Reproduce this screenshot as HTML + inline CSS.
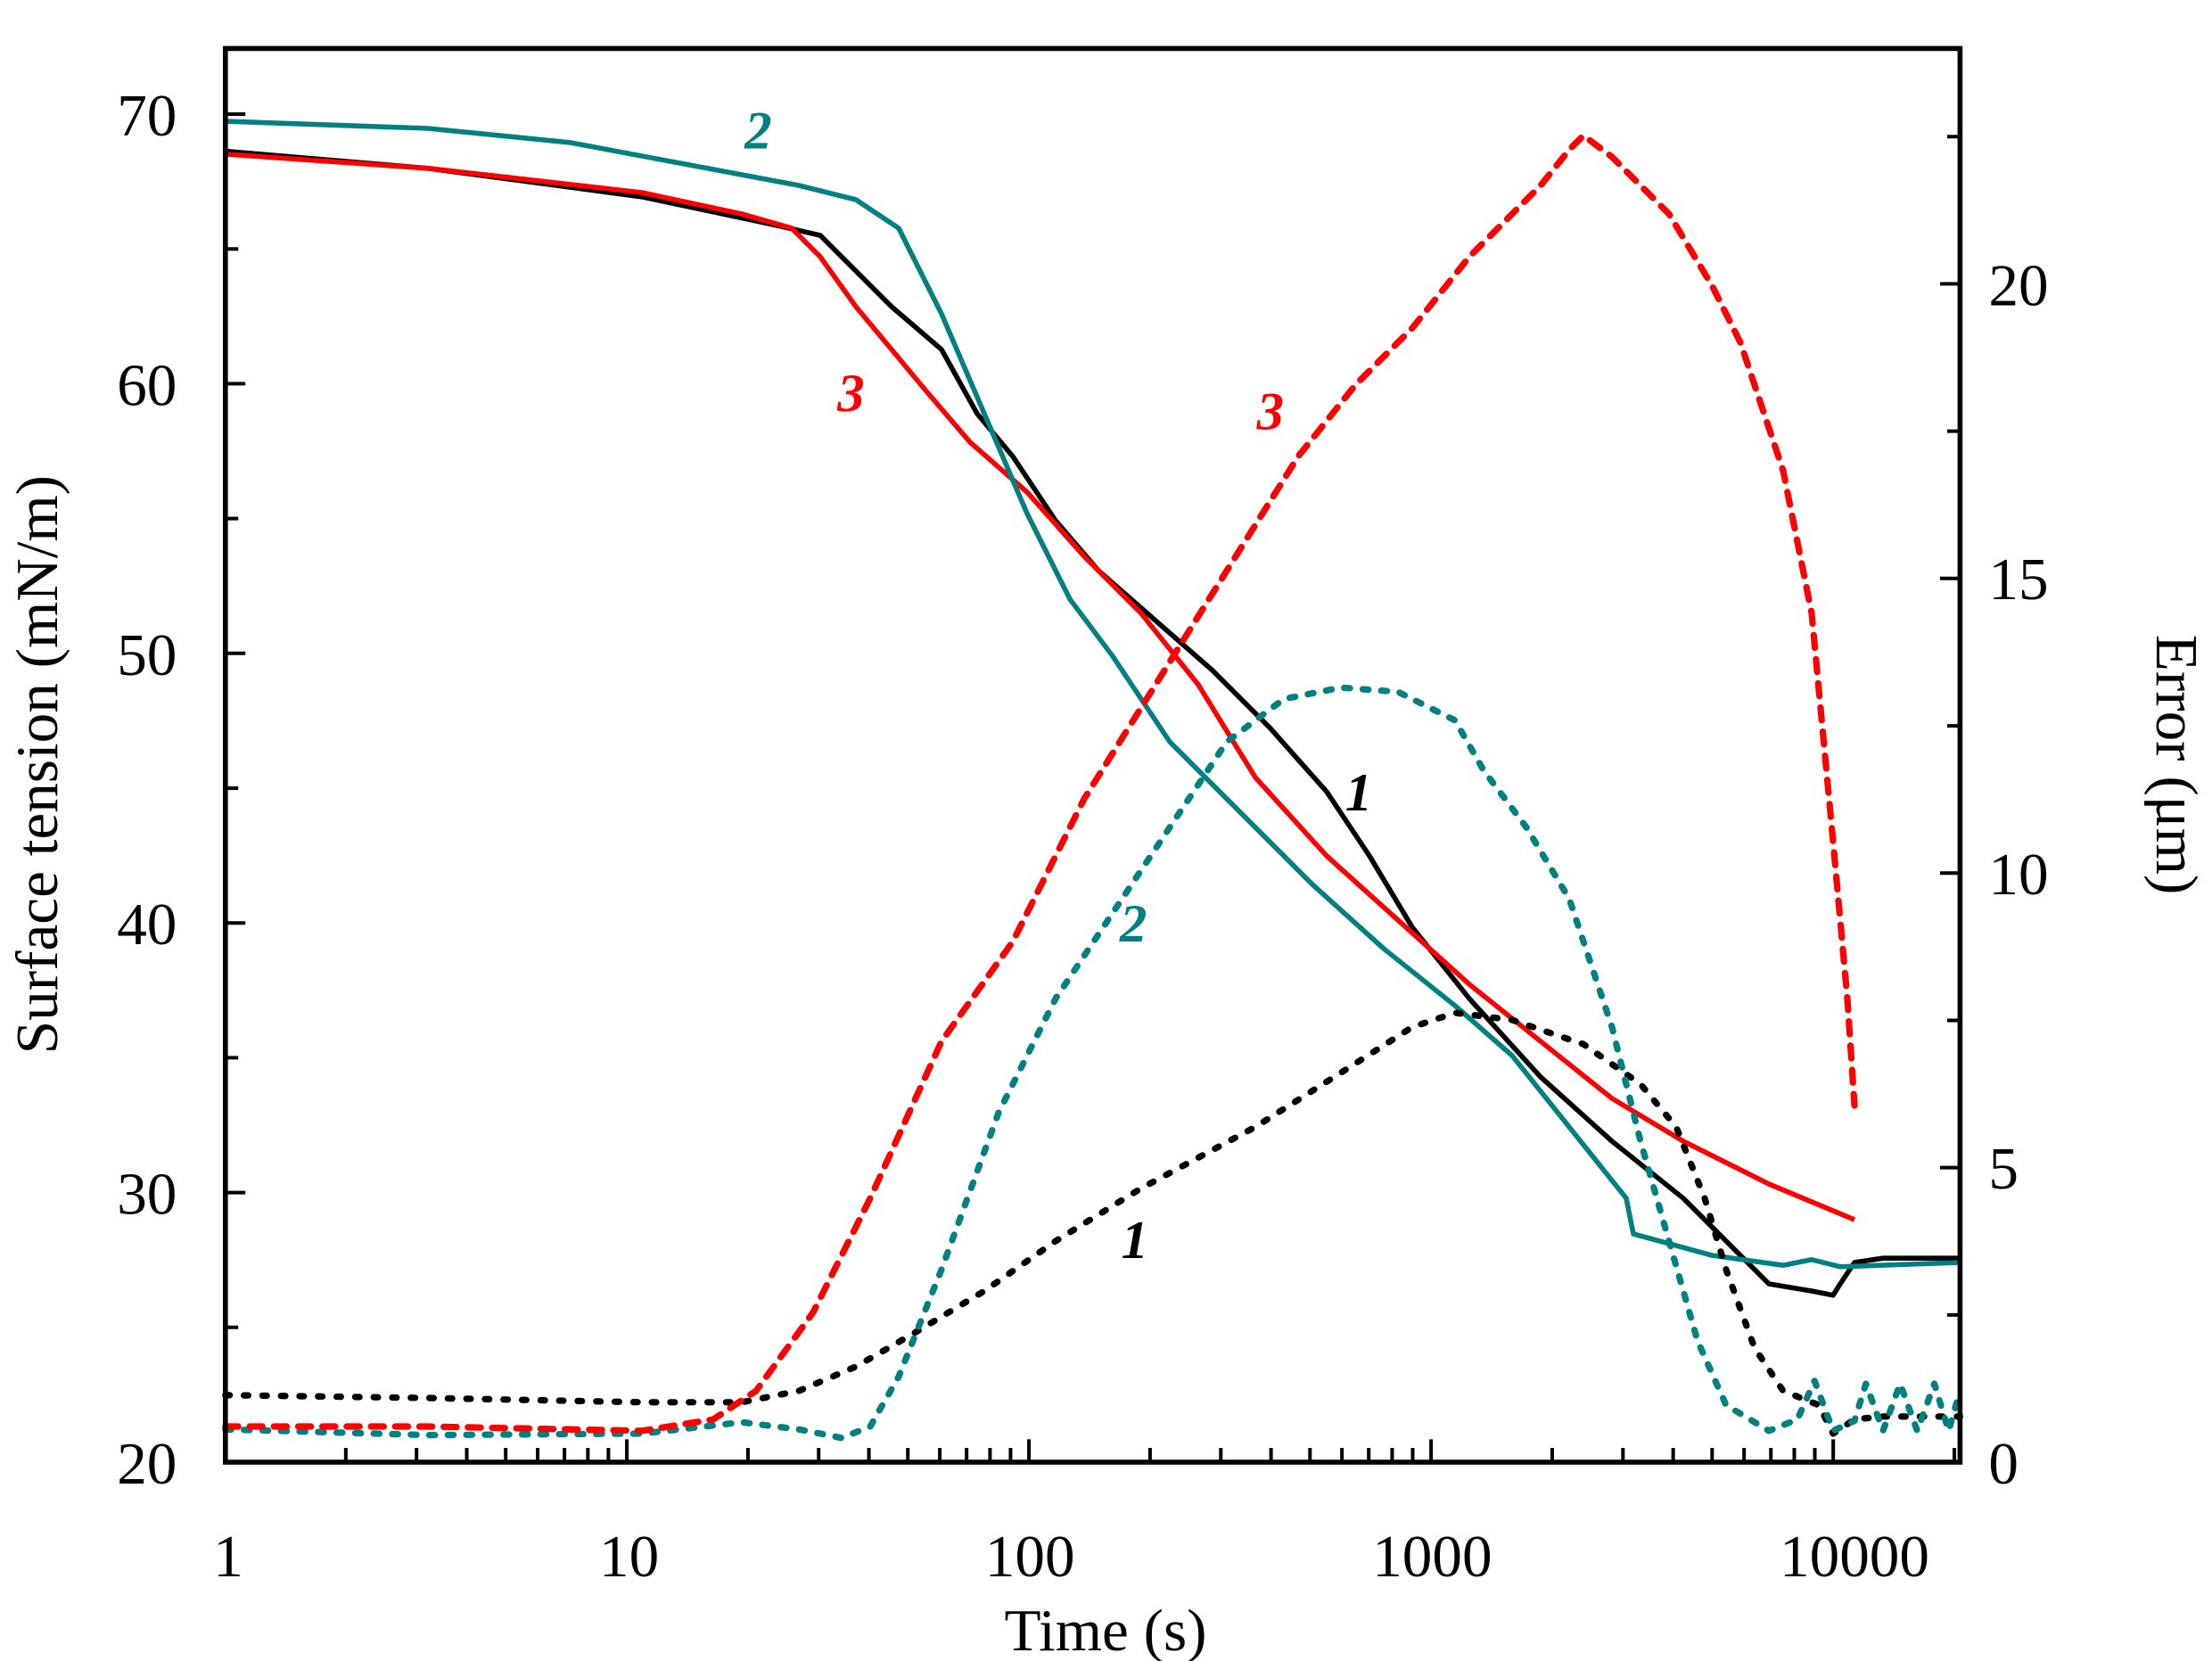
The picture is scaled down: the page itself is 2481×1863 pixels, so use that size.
<!DOCTYPE html>
<html><head><meta charset="utf-8"><style>html,body{margin:0;padding:0;background:#fff}svg{display:block}</style></head>
<body>
<svg xmlns="http://www.w3.org/2000/svg" width="2481" height="1863" viewBox="0 0 1550.625 1164.375">
<rect width="1550.625" height="1164.375" fill="#fff"/>
<g fill="none" stroke-linejoin="round">
<polyline stroke="#000" stroke-width="3.5" points="158,106 300,118 450,138 540,157 575,165 600,190 625,215 660,245 685,290 710,320 740,365 770,400 810,435 850,470 890,510 930,555 960,600 990,650 1030,700 1080,755 1130,800 1180,840 1210,870 1240,900 1270,905 1285,908 1290,900 1300,885 1320,882 1374,882"/>
<polyline stroke="#ff0000" stroke-width="3.5" points="158,108 300,118 450,135 520,150 555,160 575,180 600,215 625,245 650,275 680,310 720,345 760,390 800,430 840,480 880,545 930,600 980,645 1030,690 1080,730 1130,770 1180,800 1240,830 1300,855"/>
<polyline stroke="#008080" stroke-width="3.5" points="158,85 300,90 400,100 480,115 560,130 600,140 630,160 660,220 690,290 720,360 750,420 780,460 820,520 870,570 920,620 970,665 1020,705 1060,740 1100,790 1140,840 1145,865 1200,880 1250,887 1270,883 1290,888 1374,885"/>
<polyline stroke="#000" stroke-width="4.5" stroke-linecap="round" stroke-dasharray="3 10" points="158,978 300,980 450,983 520,983 560,975 600,958 640,935 690,905 740,870 800,833 880,790 940,752 990,720 1020,710 1060,715 1110,732 1150,760 1175,790 1195,840 1210,890 1230,945 1250,975 1275,985 1285,1005 1300,995 1320,993 1374,993"/>
<polyline stroke="#008080" stroke-width="4.5" stroke-linecap="round" stroke-dasharray="4 9" points="158,1002 300,1006 450,1005 520,997 560,1002 590,1008 610,1000 630,965 660,890 700,780 740,700 780,640 820,580 860,520 900,490 940,482 980,485 1020,505 1040,540 1070,580 1100,630 1130,720 1150,800 1170,870 1190,940 1210,985 1240,1003 1260,995 1272,968 1285,1003 1300,996 1308,970 1320,1003 1332,970 1344,1003 1356,970 1366,1003 1374,975"/>
<polyline stroke="#ff0000" stroke-width="4.5" stroke-linecap="round" stroke-dasharray="9 8" points="158,1000 300,1000 450,1003 500,995 530,975 570,920 610,840 660,730 710,660 760,560 810,480 860,400 910,320 950,270 990,230 1030,180 1080,130 1100,105 1110,95 1130,110 1170,150 1200,200 1220,240 1250,330 1270,430 1285,590 1295,700 1300,775"/>
</g>
<rect x="158" y="34" width="1216" height="991" fill="none" stroke="#000" stroke-width="3.5"/>
<g stroke="#000" stroke-width="2.5">
<path d="M157.5,1025v-16M439.4,1025v-16M721.3,1025v-16M1003.2,1025v-16M1285.1,1025v-16"/>
<path d="M242.4,1025v-10M292,1025v-10M327.2,1025v-10M354.5,1025v-10M376.9,1025v-10M395.7,1025v-10M412.1,1025v-10M426.5,1025v-10
M524.3,1025v-10M573.9,1025v-10M609.1,1025v-10M636.4,1025v-10M658.8,1025v-10M677.6,1025v-10M694,1025v-10M708.4,1025v-10
M806.2,1025v-10M855.8,1025v-10M891,1025v-10M918.3,1025v-10M940.7,1025v-10M959.5,1025v-10M975.9,1025v-10M990.3,1025v-10
M1088.1,1025v-10M1137.7,1025v-10M1172.9,1025v-10M1200.2,1025v-10M1222.6,1025v-10M1241.4,1025v-10M1257.8,1025v-10M1272.2,1025v-10
M1370,1025v-10"/>
<path d="M158,1025h14M158,836h14M158,647h14M158,458h14M158,269h14M158,80h14"/>
<path d="M158,930.5h9M158,741.5h9M158,552.5h9M158,363.5h9M158,174.5h9"/>
<path d="M1374,1025h-14M1374,818.5h-14M1374,612h-14M1374,405.5h-14M1374,199h-14"/>
<path d="M1374,921.8h-9M1374,715.3h-9M1374,508.8h-9M1374,302.3h-9M1374,95.8h-9"/>
</g>
<g font-family="Liberation Serif, serif" font-size="42" fill="#000">
<g text-anchor="end">
<text x="124" y="1040">20</text><text x="124" y="851">30</text><text x="124" y="662">40</text>
<text x="124" y="473">50</text><text x="124" y="284">60</text><text x="124" y="95">70</text>
</g>
<g text-anchor="start">
<text x="1394" y="1040">0</text><text x="1394" y="833">5</text><text x="1394" y="627">10</text>
<text x="1394" y="420">15</text><text x="1394" y="214">20</text>
</g>
<g text-anchor="middle">
<text x="160" y="1105">1</text><text x="441" y="1105">10</text><text x="722" y="1105">100</text>
<text x="1004" y="1105">1000</text><text x="1300" y="1105">10000</text>
<text x="775" y="1157">Time (s)</text>
<text transform="translate(40,536) rotate(-90)">Surface tension (mN/m)</text>
<text transform="translate(1512,536) rotate(90)">Error (μm)</text>
</g>
<g font-style="italic" font-weight="bold" font-size="38">
<text x="522" y="104" fill="#008080">2</text>
<text x="587" y="288" fill="#ff0000">3</text>
<text x="881" y="301" fill="#ff0000">3</text>
<text x="943" y="568" fill="#000">1</text>
<text x="785" y="660" fill="#008080">2</text>
<text x="786" y="882" fill="#000">1</text>
</g>
</g>
</svg>
</body></html>
